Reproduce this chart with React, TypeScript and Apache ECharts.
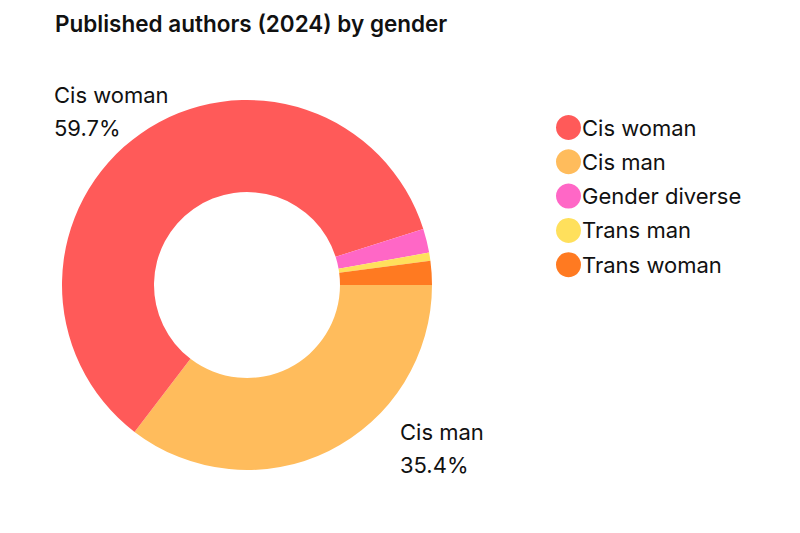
import React, { useEffect, useRef } from "react";
import * as echarts from "echarts";

const sliceNames = ["Cis man", "Cis woman", "Gender diverse", "Trans man", "Trans woman"];
const sliceValues = [35.4, 59.7, 2.1, 0.7, 2.1];
const sliceColors = ["#FFBC5C", "#FF5A59", "#FF67C6", "#FFE05C", "#FF7A21"];
const legendOrder = ["Cis woman", "Cis man", "Gender diverse", "Trans man", "Trans woman"];
const labelledSlices = ["Cis woman", "Cis man"];

const FONT = "Inter, 'Noto Sans', sans-serif";

export default function App() {
  const ref = useRef<HTMLDivElement>(null);
  useEffect(() => {
    if (!ref.current) return;
    const chart = echarts.init(ref.current, undefined, { renderer: "svg" });
    const labelPos: Record<string, [number, number]> = {
      "Cis woman": [54, 78],
      "Cis man": [400, 415],
    };
    chart.setOption({
      animation: false,
      backgroundColor: "#ffffff",
      title: {
        text: "Published authors (2024) by gender",
        left: 50,
        top: 7,
        textStyle: { fontFamily: FONT, fontSize: 22.5, fontWeight: 600, color: "#111111" },
      },
      legend: {
        orient: "vertical",
        left: 551,
        top: 110,
        data: legendOrder,
        icon: "circle",
        itemWidth: 25,
        itemHeight: 25,
        itemGap: 9.3,
        textStyle: { fontFamily: FONT, fontSize: 22, color: "#111111", padding: [0, 0, 0, -4] },
      },
      series: [
        {
          type: "pie",
          center: [247, 285],
          radius: [93, 185],
          startAngle: 0,
          clockwise: true,
          data: sliceNames.map((n, i) => ({
            name: n,
            value: sliceValues[i],
            itemStyle: { color: sliceColors[i] },
            label: { show: labelledSlices.includes(n) },
          })),
          label: {
            formatter: "{b}\n{d}%",
            fontFamily: FONT,
            fontSize: 22,
            lineHeight: 33,
            color: "#111111",
            overflow: "none",
            width: 200,
          },
          labelLine: { show: false },
          labelLayout: (params: any) => {
            const name = sliceNames[params.dataIndex];
            const p = labelPos[name];
            if (!p) return {};
            return { x: p[0], y: p[1], align: "left", verticalAlign: "top", hideOverlap: false };
          },
          emphasis: { disabled: true },
        },
      ],
    });
    return () => chart.dispose();
  }, []);
  return (
    <div
      ref={ref}
      style={{ position: "fixed", left: 0, top: 0, width: 800, height: 533 }}
    />
  );
}
